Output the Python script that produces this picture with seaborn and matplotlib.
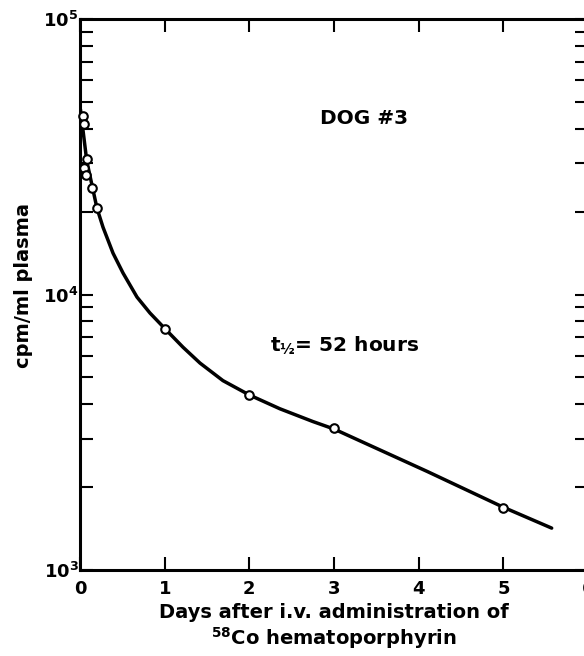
import numpy as np
import pandas as pd
import matplotlib
matplotlib.use("Agg")
import matplotlib.pyplot as plt
import seaborn as sns

# measured plasma counts (open circles)
days_obs = [0.03, 0.047, 0.079, 0.047, 0.067, 0.138, 0.197, 1.0, 2.0, 3.0, 5.0]
cpm_obs = [44400, 41500, 31000, 28700, 27100, 24400, 20650, 7480, 4320, 3285, 1683]

# hand-drawn fitted curve
days_curve = [0.005, 0.08, 0.2, 0.272, 0.39, 0.508, 0.673, 0.826, 1.01, 1.216,
              1.417, 1.688, 2.0, 2.36, 2.75, 3.0, 3.3, 4.1, 5.0, 5.57]
cpm_curve = [47000, 30500, 20600, 17540, 14130, 11970, 9790, 8570, 7480, 6440,
             5640, 4870, 4320, 3850, 3460, 3250, 2950, 2280, 1690, 1420]

x_ticks = [0, 1, 2, 3, 4, 5, 6]
x_tick_labels = ["0", "1", "2", "3", "4", "5", "6"]
y_ticks = [1e3, 1e4, 1e5]
y_tick_labels = [r"$\mathbf{10^3}$", r"$\mathbf{10^4}$", r"$\mathbf{10^5}$"]

obs = pd.DataFrame({"days": days_obs, "cpm": cpm_obs})
curve = pd.DataFrame({"days": days_curve, "cpm": cpm_curve})

sns.set_theme(style="ticks")
plt.rcParams["font.family"] = ["DejaVu Sans"]
plt.rcParams["font.weight"] = "bold"
plt.rcParams["mathtext.default"] = "bf"
plt.rcParams["text.color"] = "black"
plt.rcParams["xtick.color"] = "black"
plt.rcParams["ytick.color"] = "black"
plt.rcParams["axes.labelcolor"] = "black"

fig = plt.figure(figsize=(5.84, 6.56), dpi=100)
ax = fig.add_axes([0.137, 0.131, 0.870, 0.840])

sns.lineplot(data=curve, x="days", y="cpm", sort=False, estimator=None,
             color="black", linewidth=2.5, ax=ax, zorder=2)
sns.scatterplot(data=obs, x="days", y="cpm", marker="o", s=38,
                facecolor="white", edgecolor="black", linewidth=1.5,
                ax=ax, zorder=3, clip_on=False)

ax.set_yscale("log")
ax.set_xlim(0, 6)
ax.set_ylim(1e3, 1e5)

ax.set_xticks(x_ticks)
ax.set_xticklabels(x_tick_labels, fontsize=13, fontweight="bold")
ax.set_yticks(y_ticks)
ax.set_yticklabels(y_tick_labels, fontsize=13)
ax.yaxis.set_minor_locator(matplotlib.ticker.LogLocator(base=10, subs=np.arange(2, 10)))
ax.yaxis.set_minor_formatter(matplotlib.ticker.NullFormatter())

ax.tick_params(axis="both", which="both", direction="in", length=9.5, width=1.5,
               top=True, right=True, color="black")
ax.tick_params(axis="x", pad=7)
ax.tick_params(axis="y", pad=1)

for sp in ax.spines.values():
    sp.set_linewidth(2.2)
    sp.set_color("black")

ax.set_xlabel("Days after i.v. administration of\n$^{58}$Co hematoporphyrin",
              fontsize=14, fontweight="bold", linespacing=1.15)
ax.xaxis.set_label_coords(0.5, -0.06)
ax.set_ylabel("cpm/ml plasma", fontsize=14, fontweight="bold")
ax.yaxis.set_label_coords(-0.092, 0.517)

ax.text(3.36, 43700, "DOG #3", fontsize=14.5, fontweight="bold",
        ha="center", va="center")
ax.text(3.13, 6560, "t$_{½}$= 52 hours", fontsize=14.5, fontweight="bold",
        ha="center", va="center")

fig.savefig("out.png", dpi=100)
